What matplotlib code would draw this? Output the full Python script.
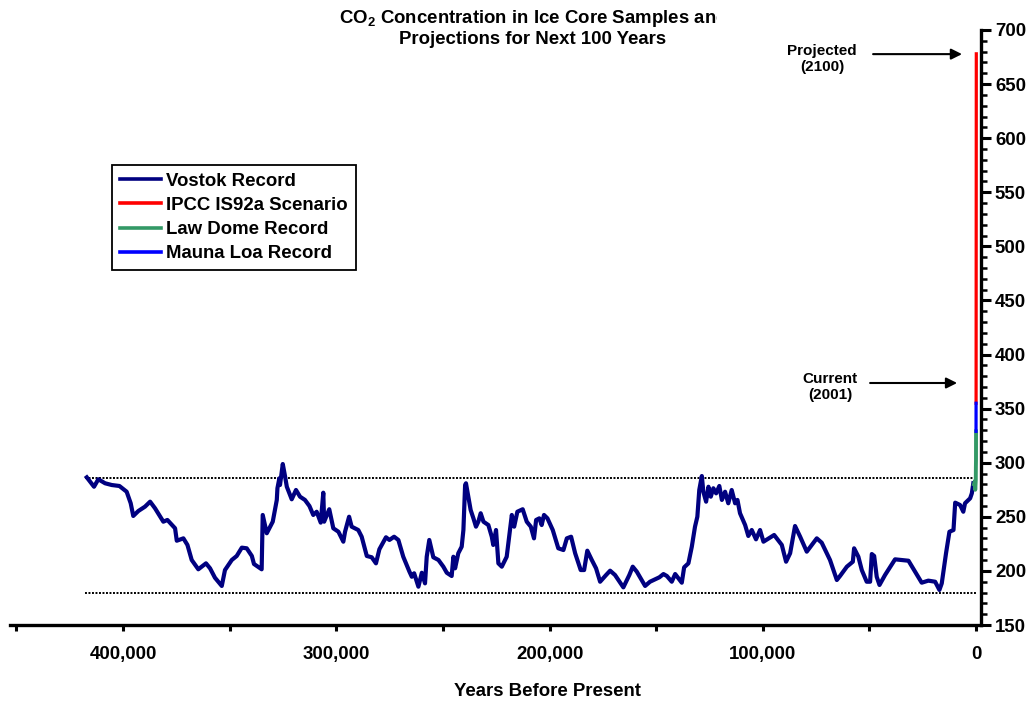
import numpy as np
import matplotlib
matplotlib.use("Agg")
import matplotlib.pyplot as plt
from matplotlib.ticker import MultipleLocator, FuncFormatter
from matplotlib.transforms import Bbox, TransformedBbox

plt.rcParams['font.family'] = ['Liberation Sans', 'DejaVu Sans']
plt.rcParams['font.weight'] = 'bold'

# Vostok ice core record: thousands of years before present, CO2 (ppmv)
vostok_kyr = [
    417.0, 413.6, 411.6, 408.4, 405.3, 401.7, 398.3, 396.4, 395.2, 392.8,
    389.7, 387.3, 385.0, 381.1, 379.2, 375.6, 374.8, 371.7, 369.8, 367.8,
    364.7, 361.1, 359.2, 356.9, 353.7, 352.2, 349.0, 346.7, 344.3, 342.0,
    339.6, 338.6, 335.0, 334.5, 332.6, 329.8, 327.9, 327.6, 326.7, 326.4,
    325.1, 324.0, 323.2, 320.9, 318.9, 317.0, 314.7, 312.6, 310.8, 309.2,
    307.3, 306.1, 305.7, 303.3, 301.4, 299.0, 296.7, 295.9, 294.0, 292.8,
    289.7, 288.1, 285.7, 283.4, 281.4, 279.8, 276.7, 275.1, 272.9, 270.9,
    268.6, 265.7, 264.6, 263.5, 261.5, 259.9, 258.4, 257.6, 256.4, 254.5,
    252.1, 249.8, 248.2, 245.9, 245.1, 244.3, 242.8, 241.2, 240.4, 239.6,
    239.2, 238.1, 237.0, 235.7, 234.5, 233.4, 232.3, 231.0, 228.7, 227.1,
    226.4, 225.1, 224.0, 222.4, 220.1, 218.5, 217.7, 216.6, 215.1, 212.6,
    210.7, 208.8, 207.3, 206.3, 204.8, 203.7, 202.6, 201.0, 198.5, 195.9,
    193.5, 191.9, 189.9, 188.0, 185.4, 183.8, 182.3, 180.2, 178.2, 176.3,
    173.5, 171.6, 169.3, 165.4, 162.6, 161.0, 159.1, 155.2, 152.9, 148.5,
    146.6, 145.0, 142.7, 141.1, 138.0, 136.9, 134.9, 133.3, 131.8, 130.7,
    129.8, 128.6, 127.9, 126.6, 125.5, 124.4, 123.2, 121.9, 120.4, 119.2,
    117.7, 116.2, 114.6, 113.0, 111.9, 110.7, 108.3, 106.8, 105.2, 103.2,
    101.3, 99.7, 94.7, 91.1, 89.1, 87.2, 84.9, 82.5, 79.4, 74.7,
    72.4, 68.5, 65.3, 63.8, 60.6, 57.8, 57.2, 55.2, 53.6, 51.3,
    49.7, 48.9, 47.8, 46.6, 45.3, 42.7, 38.0, 31.7, 25.5, 22.4,
    19.2, 17.2, 16.1, 14.1, 12.5, 10.6, 9.8, 7.5, 6.0, 5.2,
    2.8, 2.0, 1.3,
]
vostok_co2 = [
    286.5, 277.8, 284.7, 281.0, 279.4, 278.5, 273.2, 262.5, 250.8, 255.4,
    259.4, 264.0, 257.9, 245.5, 247.1, 239.4, 227.9, 230.1, 224.0, 210.1,
    201.5, 207.0, 202.4, 193.7, 186.1, 200.8, 210.1, 213.8, 221.5, 220.9,
    213.8, 206.4, 201.5, 251.7, 234.8, 245.5, 265.6, 276.4, 285.6, 279.4,
    298.8, 287.1, 277.8, 266.2, 274.8, 268.6, 265.6, 260.0, 251.7, 254.7,
    244.6, 272.3, 245.5, 257.0, 239.4, 236.2, 227.0, 236.2, 250.1, 240.9,
    237.8, 231.6, 213.8, 212.6, 207.0, 220.0, 231.1, 228.6, 231.6, 228.6,
    213.1, 199.3, 194.6, 197.8, 185.4, 198.3, 188.5, 213.1, 228.6, 212.6,
    210.1, 203.9, 198.3, 195.3, 213.1, 202.4, 216.3, 222.4, 237.8, 279.4,
    281.0, 268.6, 256.3, 248.6, 240.9, 245.5, 253.3, 245.5, 242.4, 231.6,
    224.0, 237.8, 207.0, 203.9, 213.1, 239.4, 251.7, 240.9, 254.7, 257.0,
    245.5, 240.9, 230.1, 247.1, 248.6, 242.4, 251.7, 248.6, 237.8, 220.9,
    219.3, 230.1, 231.6, 216.3, 200.8, 200.8, 218.7, 210.1, 202.4, 190.0,
    196.2, 200.2, 196.2, 184.8, 196.2, 203.9, 199.3, 186.1, 190.0, 194.1,
    197.1, 195.3, 190.0, 197.1, 189.1, 203.3, 207.0, 222.4, 240.9, 250.1,
    274.8, 287.7, 273.2, 264.0, 277.8, 268.6, 276.4, 271.7, 278.5, 265.6,
    273.2, 262.5, 274.8, 262.5, 265.6, 253.3, 242.4, 232.3, 237.8, 229.2,
    237.8, 227.0, 233.2, 224.0, 208.5, 216.3, 241.5, 231.6, 217.8, 230.1,
    226.1, 210.1, 191.6, 195.3, 203.9, 208.5, 220.9, 213.1, 200.8, 190.0,
    190.0, 215.6, 213.8, 194.6, 187.0, 196.2, 210.7, 209.4, 189.1, 191.0,
    190.0, 182.4, 188.5, 216.3, 236.2, 237.8, 263.1, 260.9, 254.7, 262.5,
    267.1, 271.7, 281.0,
]

# IPCC IS92a projection: years before present (negative = future)
ipcc_years = [10, -1, -100]
ipcc_co2 = [355, 371, 678]

# Law Dome ice core
law_dome_years = [1000, 800, 600, 400, 250, 150, 100, 50, 25]
law_dome_co2 = [280, 281, 283, 275, 280, 284, 296, 302, 329]

# Mauna Loa atmospheric record
mauna_loa_years = [30, 20, 10]
mauna_loa_co2 = [329, 341, 355]

# range of the Vostok record
vostok_max = 286
vostok_min = 180
range_start = 418000

fs = 13.4

fig = plt.figure(figsize=(10.35, 7.02), dpi=100)
ax = fig.add_axes([10 / 1035, 77 / 702, 971 / 1035, 595 / 702])

ax.plot(np.array(vostok_kyr) * 1000, vostok_co2, color='#000080', lw=3.0,
        solid_joinstyle='round', label='Vostok Record')
ax.plot(ipcc_years, ipcc_co2, color='#FF0000', lw=2.3, label='IPCC IS92a Scenario')
ax.plot(law_dome_years, law_dome_co2, color='#339966', lw=2.8, label='Law Dome Record')
ax.plot(mauna_loa_years, mauna_loa_co2, color='#0000FF', lw=2.3, label='Mauna Loa Record')

for level in (vostok_max, vostok_min):
    ax.plot([range_start, 0], [level, level], color='black', lw=1.4,
            linestyle=(0, (1, 0.8)), zorder=1)

ax.set_xlim(453000, -2300)
ax.set_ylim(150, 700)

for side in ('top', 'left'):
    ax.spines[side].set_visible(False)
for side in ('bottom', 'right'):
    ax.spines[side].set_linewidth(2.4)

ax.yaxis.tick_right()
ax.yaxis.set_major_locator(MultipleLocator(50))
ax.yaxis.set_minor_locator(MultipleLocator(10))
ax.xaxis.set_major_locator(MultipleLocator(100000))
ax.xaxis.set_minor_locator(MultipleLocator(50000))
ax.xaxis.set_major_formatter(FuncFormatter(lambda v, p: f'{v:,.0f}'))

ax.tick_params(axis='y', which='major', direction='out', length=7, width=2.2,
               pad=3, labelsize=fs)
ax.tick_params(axis='y', which='minor', direction='out', length=4, width=1.8)
ax.tick_params(axis='x', which='both', direction='out', length=4, width=2.2,
               pad=11, labelsize=fs)
for lbl in ax.get_xticklabels() + ax.get_yticklabels():
    lbl.set_fontweight('bold')

# annotations for the projected and current values
ax.text(72200, 673, 'Projected\n(2100)', ha='center', va='center',
        fontsize=11, fontweight='bold', linespacing=1.2)
ax.annotate('', xy=(6600, 677.7), xytext=(48300, 677.7),
            arrowprops=dict(arrowstyle='-|>', color='black', lw=1.5,
                            mutation_scale=16, shrinkA=0, shrinkB=0))
ax.text(68500, 370, 'Current\n(2001)', ha='center', va='center',
        fontsize=11, fontweight='bold', linespacing=1.2)
ax.annotate('', xy=(8900, 373.7), xytext=(49700, 373.7),
            arrowprops=dict(arrowstyle='-|>', color='black', lw=1.5,
                            mutation_scale=16, shrinkA=0, shrinkB=0))

leg = fig.legend(loc='upper left', bbox_to_anchor=(112 / 1035, 1 - 165 / 702),
                 prop=dict(weight='bold', size=fs), frameon=True, fancybox=False,
                 edgecolor='black', framealpha=1, borderpad=0.42, labelspacing=0.38,
                 handlelength=2.2, handletextpad=0.3, borderaxespad=0)
leg.get_frame().set_linewidth(1.3)
for h in leg.get_lines():
    h.set_linewidth(2.6)

fig.text(547 / 1035, 1 - 691 / 702, 'Years Before Present', ha='center',
         va='center', fontsize=fs, fontweight='bold')

title = fig.text(533 / 1035, 1 - 28 / 702,
                 'CO$_\\mathregular{2}$ Concentration in Ice Core Samples and\n'
                 'Projections for Next 100 Years',
                 ha='center', va='center', fontsize=fs, fontweight='bold',
                 linespacing=1.2)
title.set_clip_on(True)
title.set_clip_box(TransformedBbox(Bbox.from_extents(0, 0, 717 / 1035, 1),
                                   fig.transFigure))

fig.savefig('out.png', dpi=100, facecolor='white')
